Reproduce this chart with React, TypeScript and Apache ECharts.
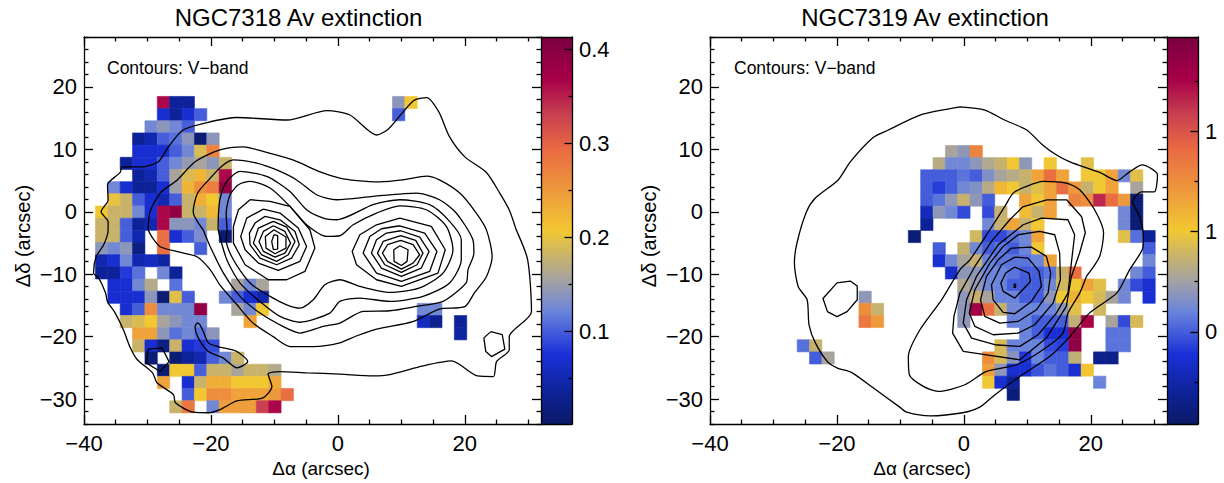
import React, { useEffect, useRef } from "react";
import * as echarts from "echarts";

type Seg = [number, number, (number | null)[]];
type Pt = [number, number];
const _ = null;

// ---------- values: [row, first column, values] ----------
const leftCells: Seg[] = [
  [0, 5, [.364, .035, .035]], [0, 24, [.14, .207]],
  [1, 5, [.07, .035, .07, .1]], [1, 24, [.1]],
  [2, 4, [.125, .14, .125, .1]],
  [3, 3, [.035, .05, .1, .11, .14, .01, .14]],
  [4, 3, [.07, .07, .07, .1, .125, .19, .27]],
  [5, 2, [.035, .07, .07, .1, .125, .145, .157, .14, .18]],
  [6, 3, [.035, .05, .1, .157, .19, .225, .18, .364]],
  [7, 1, [.125, .07, .035, .035, .07, .15, .225, .26, .275, .39]],
  [8, 1, [.2, .18, .1, .07, .05, .1, .18, .23, .207, .125]],
  [9, 0, [.207, .18, .18, .125, .07, .364, .39, .18, .18, .22, .125]],
  [10, 0, [.18, .18, .1, .035, .05, .364, .14, .14, .125, .18, .1]],
  [11, 0, [.18, .18, .1, .05, _, .29, .07, .1, .13, _, .01]],
  [12, 0, [.14, .125, .14, .02, _, .29, _, _, .1]],
  [13, 0, [.05, .07, .125, .05, .06, .04]],
  [14, 0, [.035, .035, .08, .11, _, .125, .035]],
  [15, 1, [.07, .07, .125, .165, _, .11]], [15, 11, [.157, .125, .157]],
  [16, 1, [.07, .07, .07, .14, .01, .195, .1]], [16, 10, [.125, .1, .07, .05]],
  [17, 2, [.07, .1, .26, .125, .125, .125, .39]], [17, 11, [.157, .125, .207]],
  [17, 26, [.125, .125]],
  [18, 2, [.18, .19, .207, .157, .14, .125, .125]], [18, 12, [.24]], [18, 26, [.06, .03]], [18, 29, [.035]],
  [19, 3, [.24, .24, .14, .11, .125, .11, .14]], [19, 29, [.04]],
  [20, 3, [.18, .07, .02, .18, .07, .08, .09]],
  [21, 4, [.01, _, .01, .035, .05, .1, .125, .18]],
  [22, 5, [.01, .207, .207, .1, .18, .18, .157, .18, .18, .165]],
  [23, 5, [.24, _, .07, .18, .23, .23, .207, .207, .207, .235]],
  [24, 7, [.1, .207, .26, .26, .24, .24, .24, .25, .29]],
  [25, 6, [.18, .28, _, .125, .245, .245, .245, .33, .364]],
];

const rightCells: Seg[] = [
  [0, 12, [.77, .7, 1.3]],
  [1, 11, [.82, .62, .62, .7, .8, .87, 1.0, .7]], [1, 20, [1.0]], [1, 23, [.95]],
  [2, 10, [.5, .5, .5, .56, .5, .66, .77, .82, .87, 1.16, 1.39, 1.16]], [2, 23, [1.0, 1.0, 1.16, .62, .95]],
  [3, 10, [.5, .42, .5, .62, .66, .82, 1.08, 1.0, .87, .95, 1.16, 1.39, 1.2, .87, 1.0, 1.16]], [3, 27, [.77]],
  [4, 10, [.5, .56, .7, .87, .7, .5]], [4, 18, [1.16, 1.0, 1.16]], [4, 22, [1.3, 1.25, 1.65, 1.4, 1.2, .08]],
  [5, 10, [.3, .7, .62, .45]], [5, 15, [.45, .87]], [5, 18, [1.05, .87, 1.16]], [5, 26, [.62, .08]],
  [6, 10, [.2]], [6, 15, [.62, .87, 1.15, .87, 1.0]], [6, 26, [.62, .08]],
  [7, 9, [.08]], [7, 14, [.9, .45, .45, .56, .62, 1.16]], [7, 26, [.95, .55, .2]],
  [8, 11, [.5]], [8, 13, [.87, .62, .5, .56, .5, .6, 1.0]], [8, 28, [.5]],
  [9, 11, [.37, .62, .77, .87, .6, .56, .56, .56, .6, 1.15]], [9, 28, [.62]],
  [10, 12, [.35, .7, .7, .6, .6, .56, .5, .5, .56, .87, 1.39]], [10, 27, [.62, .5]],
  [11, 13, [.8, .72, .62, .6, .5, .5, .5, .62, .9, 1.0, 1.16, .95]], [11, 26, [.62, .45, .37]],
  [12, 5, [.7]], [12, 13, [.7, .87, .77, .6, .6, .5, .5, .7, 1.0, 1.1, 1.0, .92, .77, .62]], [12, 28, [.37]],
  [13, 5, [1.25, .87]], [13, 13, [.7, 1.8, 1.39, .87, .62, .6, .6, .6, .7, .95]], [13, 24, [.9]],
  [14, 5, [1.35, 1.2]], [14, 13, [.7]], [14, 17, [.6, .6, .5, .5, .5, .85, 1.75]], [14, 25, [.77, .45, .92]],
  [15, 18, [.6, .5, .38, .37, 1.87]], [15, 25, [.56, .56]],
  [16, 0, [.55, .87]], [16, 16, [.92, .6, .6, .6, .45, .42, 1.87]], [16, 25, [.56, .56]],
  [17, 1, [.5, .77]], [17, 15, [1.25, .92, .68, .4, .6, .5, .5, .85]], [17, 24, [.15, .15]],
  [18, 15, [1.18, .7, .37, .37, .48, .56, .5, .37, 1.02]],
  [19, 15, [1.0, .37, .2]], [19, 24, [.6]],
  [20, 17, [.1]],
];

// ---------- contours in arcsec ----------
const leftOuter: Pt[] = [[28.1,-2.9],[29.9,-7.7],[30.5,-16],[27,-20],[27,-22.1],[25,-24],[24.5,-26.4],[22,-26.3],[17.9,-23.9],[13.4,-24.7],[8.2,-26.1],[5.5,-26.3],[.3,-26],[-4.9,-25.8],[-9.1,-25.6],[-11,-26],[-10.4,-28],[-11.8,-29.8],[-15.9,-30.3],[-18.6,-31.7],[-20.4,-32.2],[-22.8,-32.1],[-25.6,-30.6],[-25.9,-29.3],[-28.5,-27.4],[-29.2,-25.8],[-31.6,-23.7],[-32.7,-21.8],[-33.8,-18.9],[-35.1,-16.2],[-36.3,-14.4],[-36.6,-13],[-37.7,-10.6],[-38.5,-9.8],[-38.1,-7.2],[-36.9,-5.3],[-36.2,-2.9],[-36.2,-1.6],[-37.3,0],[-36.2,1.9],[-36.3,4.3],[-34.3,6.3],[-34,7.2],[-30.7,7.2],[-28.3,8],[-26.7,10.4],[-24.4,13.1],[-20.6,14.3],[-15.9,15.1],[-8,14.7],[-1.7,16.2],[1.9,15.5],[6.1,12.3],[8,13.3],[11.9,17.8],[14,18.3],[15.9,16],[17.6,12],[20,8.8],[23.4,6.3],[25.5,3],[27,.3],[28.1,-2.9]];
const leftC2: Pt[] = [[-29.9,-2.9],[-29.6,0],[-28,3],[-25.3,5.1],[-22.5,8],[-18.6,9.9],[-14.9,10.4],[-11.2,9.5],[-7.1,8.3],[-2.8,6.4],[.3,5.4],[3,5],[6.6,4.8],[10.2,5.1],[14,5.7],[16,5.1],[19.2,3],[21.8,-.2],[23.4,-2.9],[24.3,-7.2],[23.4,-10.4],[21.5,-13],[20,-15.2],[16,-15.6],[11.8,-17.6],[6.1,-18.8],[2.9,-19.9],[.3,-21],[-3.9,-21.6],[-7.5,-21.6],[-10.2,-20],[-13.4,-17.8],[-15.9,-14.9],[-18.6,-11.7],[-20.1,-9.3],[-22.2,-7.2],[-25.3,-6.4],[-28,-5.6],[-29.2,-4.2],[-29.9,-2.9]];
const leftC3: Pt[] = [[-21.23,-2.88],[-22.8,0],[-22.1,3],[-20.1,5.4],[-18.3,7.3],[-16.5,8.3],[-12.8,7.8],[-9.65,6.7],[-6.5,5.1],[-3.36,2.73],[-.2,1.93],[5.55,2.46],[12.37,3],[16,1.93],[18.65,-.2],[21.27,-4.48],[21.43,-6.62],[20.5,-9.3],[20.2,-11.4],[16.56,-14.36],[12.37,-15.16],[8.17,-15.86],[3.98,-15.96],[.31,-17.83],[-2.31,-18.36],[-5.98,-19.43],[-8.6,-18.4],[-12.27,-16.23],[-15.41,-13.56],[-18.03,-9.82],[-20.13,-5.55],[-21.23,-2.88]];
const leftC4: Pt[] = [[-18.87,-2.88],[-18.82,-.48],[-18.55,2.19],[-17.5,4.86],[-15.41,6.46],[-11.22,5.66],[-7.55,3.26],[-4.93,.32],[-2.31,-1.01],[-.21,-1.28],[5.55,1.13],[9.75,1.93],[14.46,1.13],[17.6,-1.54],[19.44,-4.48],[19.44,-7.69],[17.6,-11.4],[13.41,-13.56],[8.17,-14.36],[3.46,-13.83],[.31,-14.36],[-1.26,-16.23],[-5.98,-17.7],[-9.12,-16.76],[-12,-14.63],[-15.41,-11.42],[-17.5,-7.69],[-18.87,-2.88]];
const leftC5: Pt[] = [[-17.45,-2.88],[-17.6,-.21],[-16.98,2.73],[-15.67,4.33],[-13.84,4.86],[-10.69,3.8],[-7.55,.86],[-4.93,-2.08],[-1.79,-3.95],[.31,-3.84],[2.41,-2.08],[6.08,-.21],[9.75,.96],[13.94,.32],[17.08,-2.35],[18.13,-6.08],[16.56,-9.82],[12.89,-12.2],[8.17,-12.92],[3.46,-11.96],[.31,-10.89],[-2.05,-11.69],[-3.88,-14.09],[-5.98,-15.43],[-8.07,-14.9],[-10.69,-13.56],[-13.84,-11.42],[-16.46,-7.69],[-17.6,-4.48],[-17.45,-2.88]];
const leftStrip: Pt[] = [[-22.2,-17.8],[-22.5,-18.4],[-22,-20.2],[-20.4,-22.4],[-18.1,-23.4],[-15.9,-25],[-14.2,-24],[-15.9,-22.4],[-18.9,-21.6],[-20.4,-21],[-21.2,-19.2],[-21.8,-18],[-22.2,-17.8]];
const leftIslandA: Pt[] = [[-29.9,-22],[-27.7,-21.8],[-26.6,-24],[-28,-25.6],[-30.2,-24.2],[-29.9,-22]];
const leftIslandB: Pt[] = [[24.1,-19.2],[25.9,-19.7],[26.3,-22],[24.2,-23.2],[23.3,-22.4],[23,-20.2],[24.1,-19.2]];
const leftPeakA: Pt[][] = [
  [[-13.84,1.93],[-10.7,1.66],[-7.55,.86],[-4.41,-2.88],[-3.62,-5.82],[-5.19,-9.55],[-8.07,-10.89],[-10.96,-10.89],[-14.62,-8.49],[-16.46,-5.02],[-16.46,-2.35],[-15.67,.33],[-13.84,1.93]],
  [[-11.74,.43],[-9.12,-.21],[-6.24,-2.61],[-4.93,-5.55],[-5.98,-7.95],[-9.38,-9.4],[-12.53,-8.22],[-14.62,-6.08],[-15.31,-3.95],[-14.36,-1.01],[-11.74,.43]],
  [[-11.48,-.74],[-9.12,-1.28],[-6.76,-3.15],[-6.08,-5.28],[-7.29,-7.42],[-9.65,-8.49],[-12.27,-7.42],[-13.84,-5.28],[-13.94,-3.42],[-13.05,-1.81],[-11.48,-.74]],
  [[-10.17,-1.54],[-8.07,-2.45],[-6.76,-4.75],[-7.81,-6.89],[-9.65,-7.95],[-12,-6.89],[-13.31,-5.02],[-12.53,-2.61],[-10.17,-1.54]],
  [[-10.17,-2.24],[-8.34,-3.15],[-7.45,-5.02],[-8.34,-6.62],[-9.91,-7.26],[-11.74,-6.35],[-12.42,-4.75],[-11.74,-3.15],[-10.17,-2.24]],
  [[-10.07,-2.88],[-8.18,-4.05],[-8.18,-5.82],[-9.91,-6.72],[-11.32,-5.82],[-11.43,-3.95],[-10.07,-2.88]],
  [[-10.07,-3.68],[-9.49,-3.84],[-9.49,-5.98],[-10.17,-6.08],[-10.43,-4.75],[-10.07,-3.68]],
];
const leftPeakB: Pt[][] = [
  [[9.75,-1.01],[14.72,-2.35],[16.92,-6.08],[15.77,-9.82],[10,-11.96],[6.08,-10.89],[2.93,-8.49],[2.25,-6.35],[3.46,-3.68],[6.08,-2.08],[9.75,-1.01]],
  [[9.75,-2.24],[13.68,-3.41],[15.6,-6.35],[14.46,-9.56],[10,-11.16],[6.08,-9.82],[3.98,-6.62],[5.03,-3.95],[6.86,-2.72],[9.75,-2.24]],
  [[9.9,-3.04],[12.89,-4.05],[14.36,-6.35],[13.15,-9.02],[10,-10.36],[6.86,-9.02],[5.29,-6.62],[6.08,-4.48],[7.65,-3.41],[9.9,-3.04]],
  [[9.9,-3.84],[12.26,-4.59],[13.41,-6.62],[12.47,-8.49],[10,-9.72],[7.39,-8.49],[6.24,-6.62],[7.13,-4.75],[9.9,-3.84]],
  [[9.9,-4.59],[11.84,-5.28],[12.89,-6.89],[11.84,-8.22],[10,-9.18],[7.81,-7.95],[7.02,-6.62],[7.81,-5.28],[9.9,-4.59]],
  [[9.75,-5.44],[11.06,-6.08],[10.9,-7.95],[10,-8.6],[8.86,-7.95],[8.8,-6.08],[9.75,-5.44]],
];

const rightOuter: Pt[] = [[-.6,16.8],[3.3,16.3],[6.4,14.7],[9.9,13.1],[12.4,10.7],[14.6,9.1],[16.7,8],[21.4,6.3],[24.1,5],[26.1,6.4],[28.1,7.5],[30.5,5.9],[30,3.2],[28,3.2],[26.6,1.6],[27.7,-.8],[28.3,-4.2],[28.1,-6.1],[26.1,-9.3],[24.1,-13],[19.8,-16.2],[16.7,-20],[13.5,-23.2],[8.8,-26.4],[4.9,-29.3],[2.5,-31.3],[-.2,-32.2],[-5.3,-32.7],[-9,-32.1],[-10.1,-31.3],[-14.3,-28.2],[-17.6,-25.8],[-20,-25],[-21.5,-24],[-23.4,-21],[-24.4,-18.1],[-24.7,-14.1],[-26.1,-12],[-26.7,-8.2],[-26.3,-5],[-24.8,0],[-23.4,2.2],[-19.8,5.1],[-17.9,8],[-14.3,11.9],[-11.9,13.1],[-6.9,15.5],[-.6,16.8]];
const rightIsland: Pt[] = [[-20,-11.4],[-17.9,-11.1],[-16.8,-11.9],[-16.8,-14.1],[-18.4,-16],[-20,-16.8],[-21.5,-16],[-22.2,-13.9],[-20,-11.4]];
const rightC2: Pt[] = [[19.3,-10.36],[21.38,-7.15],[22.01,-3.41],[20.6,.32],[18.24,3.53],[16.14,4.6],[12.47,4.86],[9.85,4.06],[7.76,2.99],[6.45,.86],[4.09,-2.88],[.95,-7.69],[-.63,-9.29],[-3.51,-14.1],[-6.92,-18.9],[-8.75,-23.17],[-8.59,-26.11],[-6.39,-27.98],[-4.03,-28.78],[.16,-27.71],[3.56,-25.58],[8.28,-24.51],[12.47,-22.1],[15.6,-19.44],[16.4,-16.23],[18.24,-13.03],[19.3,-10.36]];
const rightRings: Pt[][] = [
  [[9.28,.8],[13.05,1.92],[16.19,1.92],[18.55,-.8],[19.13,-3.36],[18.24,-6.57],[16.93,-10.41],[16.14,-15.16],[13,-20.24],[8.81,-23.71],[3.57,-22.91],[-.1,-22.37],[-1.78,-19.44],[-1.57,-16.77],[-.63,-13.03],[1.73,-8.76],[4.35,-4.75],[7.23,-1.28],[9.28,.8]],
  [[9.33,-2.08],[12.21,-1.01],[16.4,-1.28],[17.45,-3.68],[16.93,-8.22],[16.4,-13.03],[14.57,-16.23],[11.69,-19.7],[8.81,-21.57],[4.88,-21.3],[1.21,-20.24],[-.1,-17.83],[.42,-14.1],[1.99,-10.36],[5.4,-5.29],[9.33,-2.08]],
  [[8.54,-3.68],[11.95,-3.15],[14.31,-3.68],[15.09,-6.62],[15.2,-10.89],[14.05,-14.63],[11.16,-18.1],[8.54,-19.44],[4.61,-19.7],[1.73,-18.37],[.84,-16.23],[1.73,-12.49],[4.09,-8.22],[6.19,-5.55],[8.54,-3.68]],
  [[7.5,-5.82],[10.64,-5.66],[13,-7.15],[13.68,-9.82],[13.26,-13.03],[11.43,-15.7],[8.54,-17.57],[5.66,-17.83],[3.3,-16.77],[2.62,-14.1],[3.57,-10.36],[5.4,-7.69],[7.5,-5.82]],
  [[8.02,-7.26],[10.12,-7.42],[11.85,-9.56],[12.21,-11.96],[10.64,-14.36],[8.02,-16.34],[6.19,-16.13],[4.61,-14.1],[4.35,-11.69],[5.92,-8.49],[8.02,-7.26]],
  [[8.02,-8.86],[10.27,-9.82],[10.48,-11.16],[8.02,-13.83],[6.19,-12.76],[5.82,-11.43],[6.6,-9.82],[8.02,-8.86]],
  [[7.9,-11.6],[8.15,-11.6],[8.15,-12.1],[7.9,-12.1],[7.9,-11.6]],
];

// ---------- axes / scale values ----------
const titles = ["NGC7318 Av extinction", "NGC7319 Av extinction"];
const xRange: Pt = [-40, 32];
const yRange: Pt = [-34, 28];
const xMajor = [-40, -20, 0, 20];
const xMinor = [-35, -30, -25, -15, -10, -5, 5, 10, 15, 25, 30];
const yMajor = [-30, -20, -10, 0, 10, 20];
const yMinor = [-34, -32, -28, -26, -24, -22, -18, -16, -14, -12, -8, -6, -4, -2, 2, 4, 6, 8, 12, 14, 16, 18, 22, 24, 26, 28];
const leftBarRange: Pt = [0.001, 0.413];
const leftBarMajor = [0.1, 0.2, 0.3, 0.4];
const leftBarMinor = [0.05, 0.15, 0.25, 0.35];
const rightBarRange: Pt = [0.04, 1.97];
const rightBarMajor = [0.5, 1, 1.5];
const rightBarMinor = [0.25, 0.75, 1.25, 1.75];
const palette: [number, string][] = [
  [0, "#0a1a68"], [0.08, "#0d2296"], [0.18, "#1a30d8"], [0.29, "#6a84dc"], [0.365, "#a0a0a8"],
  [0.43, "#c6b26e"], [0.5, "#f2c832"], [0.6, "#ee9a3c"], [0.71, "#e96a42"], [0.8, "#c84050"], [0.89, "#a80048"], [1, "#7a0040"],
];

const FONT = "'Liberation Sans', Arial, sans-serif";
const MINUS = "\u2212";

function hex(c: string) { return [1, 3, 5].map((i) => parseInt(c.slice(i, i + 2), 16)); }
function colorAt(f: number) {
  const t = Math.max(0, Math.min(1, f));
  for (let i = 1; i < palette.length; i++) {
    if (t <= palette[i][0]) {
      const [a, ca] = palette[i - 1];
      const [b, cb] = palette[i];
      const k = (t - a) / (b - a);
      const A = hex(ca), B = hex(cb);
      return `rgb(${A.map((v, j) => Math.round(v + (B[j] - v) * k)).join(",")})`;
    }
  }
  return palette[palette.length - 1][1];
}

function flatten(segs: Seg[], x0: number, y0: number, pitch: number) {
  const out: number[][] = [];
  segs.forEach(([row, col, vals]) => {
    vals.forEach((v, i) => {
      if (v !== null) out.push([x0 + (col + i + 0.5) * pitch, y0 - (row + 0.5) * pitch, v]);
    });
  });
  return out;
}

const lineBase = { type: "line" as const, showSymbol: false, symbol: "none", silent: true, z: 4, clip: true, lineStyle: { color: "#000", width: 1.3 }, itemStyle: { color: "#000" }, animation: false };

export default function App() {
  const ref = useRef<HTMLDivElement>(null);
  useEffect(() => {
    document.body.style.margin = "0";
    const chart = echarts.init(ref.current!, undefined, { renderer: "svg" });
    const xAxis: any[] = [];
    const yAxis: any[] = [];
    const series: any[] = [];
    const tickLine = { color: "#000", width: 1.3 };

    const addX = (grid: number, pos: string, range: Pt, vals: number[], len: number, line: boolean, labels: boolean) => {
      xAxis.push({
        type: "value", gridIndex: grid, position: pos, min: range[0], max: range[1], z: 6, splitLine: { show: false },
        axisLine: { show: line, onZero: false, lineStyle: tickLine },
        axisTick: { show: vals.length > 0, inside: true, length: len, lineStyle: tickLine, customValues: vals },
        axisLabel: { show: labels, customValues: vals, margin: 8, fontSize: 22, fontFamily: FONT, color: "#000", formatter: (v: number) => String(v).replace("-", MINUS) },
      });
      return xAxis.length - 1;
    };
    const addY = (grid: number, pos: string, range: Pt, vals: number[], len: number, line: boolean, labels: boolean, fmt?: (v: number) => string) => {
      yAxis.push({
        type: "value", gridIndex: grid, position: pos, min: range[0], max: range[1], z: 6, splitLine: { show: false },
        axisLine: { show: line, onZero: false, lineStyle: tickLine },
        axisTick: { show: vals.length > 0, inside: true, length: len, lineStyle: tickLine, customValues: vals },
        axisLabel: { show: labels, customValues: vals, margin: 7, fontSize: 22, fontFamily: FONT, color: "#000", formatter: fmt || ((v: number) => String(v).replace("-", MINUS)) },
      });
      return yAxis.length - 1;
    };

    const panel = (grid: number, cells: number[][], pitch: number, vr: Pt, smooth: Pt[][], rings: Pt[][]) => {
      const xi = addX(grid, "bottom", xRange, xMajor, 9, true, true);
      addX(grid, "bottom", xRange, xMinor, 4.5, false, false);
      addX(grid, "top", xRange, xMajor, 9, true, false);
      addX(grid, "top", xRange, xMinor, 4.5, false, false);
      const yi = addY(grid, "left", yRange, yMajor, 9, true, true);
      addY(grid, "left", yRange, yMinor, 4.5, false, false);
      addY(grid, "right", yRange, yMajor, 9, true, false);
      addY(grid, "right", yRange, yMinor, 4.5, false, false);
      series.push({
        type: "custom", xAxisIndex: xi, yAxisIndex: yi, data: cells, z: 2, silent: true, clip: true,
        encode: { x: 0, y: 1 },
        renderItem: (_p: any, api: any) => {
          const c = api.coord([api.value(0), api.value(1)]);
          const s = api.size([pitch, pitch]);
          const fill = colorAt((api.value(2) - vr[0]) / (vr[1] - vr[0]));
          return {
            type: "rect",
            shape: { x: c[0] - s[0] / 2, y: c[1] - s[1] / 2, width: s[0], height: s[1] },
            style: { fill, stroke: fill, lineWidth: 0.6 },
          };
        },
      });
      smooth.forEach((d) => series.push({ ...lineBase, xAxisIndex: xi, yAxisIndex: yi, data: d, smooth: 0.25 }));
      rings.forEach((d) => series.push({ ...lineBase, xAxisIndex: xi, yAxisIndex: yi, data: d, smooth: false }));
    };

    const bar = (grid: number, vr: Pt, major: number[], minor: number[], fmt: (v: number) => string) => {
      const xi = addX(grid, "bottom", [0, 1], [], 0, true, false);
      addX(grid, "top", [0, 1], [], 0, true, false);
      const yi = addY(grid, "right", vr, major, 7.5, true, true, fmt);
      addY(grid, "right", vr, minor, 3.5, false, false);
      const stops = palette.map(([offset, color]) => ({ offset: 1 - offset, color })).reverse();
      series.push({
        type: "custom", xAxisIndex: xi, yAxisIndex: yi, data: [[0, vr[0], 1, vr[1]]], z: 2, silent: true,
        encode: { x: [0, 2], y: [1, 3] },
        renderItem: (_p: any, api: any) => {
          const a = api.coord([api.value(0), api.value(3)]);
          const b = api.coord([api.value(2), api.value(1)]);
          return {
            type: "rect",
            shape: { x: a[0], y: a[1], width: b[0] - a[0], height: b[1] - a[1] },
            style: { fill: new echarts.graphic.LinearGradient(0, 0, 0, 1, stops) },
          };
        },
      });
    };

    panel(0, flatten(leftCells, -38.2, 18.48, 1.95), 1.95, leftBarRange,
      [leftOuter, leftC2, leftC3, leftC4, leftC5, leftStrip], [leftIslandA, leftIslandB, ...leftPeakA, ...leftPeakB]);
    bar(1, leftBarRange, leftBarMajor, leftBarMinor, (v) => v.toFixed(1));
    panel(2, flatten(rightCells, -26.26, 10.62, 1.945), 1.945, rightBarRange,
      [rightOuter, rightC2], [rightIsland, ...rightRings]);
    bar(3, rightBarRange, rightBarMajor, rightBarMinor, (v) => String(Math.floor(v)));

    const txt = (text: string, x: number, y: number, size: number, rotation = 0, align = "center") => ({
      type: "text", x, y, rotation, z: 10, silent: true,
      style: { text, fill: "#000", fontSize: size, fontFamily: FONT, align, verticalAlign: "middle" },
    });

    chart.setOption({
      animation: false,
      backgroundColor: "#fff",
      title: titles.map((text, i) => ({
        text, left: i === 0 ? 293.5 : 920, top: 0, textAlign: "center",
        textStyle: { fontSize: 24, fontWeight: "normal", fontFamily: FONT, color: "#000" },
      })),
      grid: [
        { left: 84, top: 37, width: 457, height: 387 },
        { left: 541, top: 37, width: 31, height: 387 },
        { left: 710, top: 37, width: 457, height: 387 },
        { left: 1167, top: 37, width: 31, height: 387 },
      ],
      xAxis, yAxis, series,
      graphic: [
        txt("Contours: V" + MINUS + "band", 107, 68, 17.5, 0, "left"),
        txt("Contours: V" + MINUS + "band", 734, 68, 17.5, 0, "left"),
        txt("\u0394\u03b1 (arcsec)", 321, 468, 19),
        txt("\u0394\u03b1 (arcsec)", 922, 468, 19),
        txt("\u0394\u03b4 (arcsec)", 23, 236, 20, Math.PI / 2),
        txt("\u0394\u03b4 (arcsec)", 649, 236, 20, Math.PI / 2),
      ],
    });
    return () => chart.dispose();
  }, []);
  return <div ref={ref} style={{ position: "absolute", left: 0, top: 0, width: 1224, height: 483 }} />;
}
